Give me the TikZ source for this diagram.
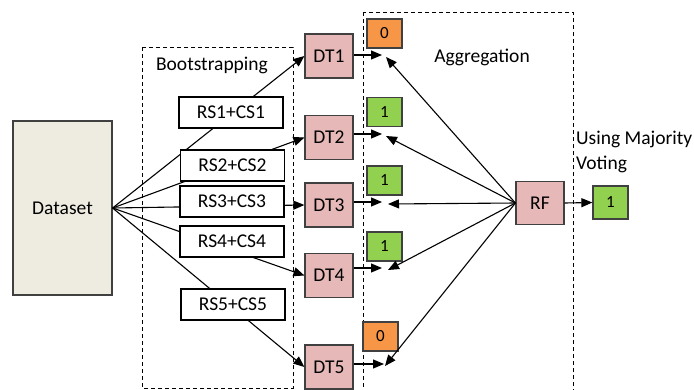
\documentclass[tikz,border=0pt]{standalone}
\usepackage{fontspec}
\setmainfont{Carlito}
\usetikzlibrary{positioning,calc,arrows.meta}
\definecolor{dsfill}{HTML}{EEECE1}
\definecolor{dtfill}{HTML}{E6B9B8}
\definecolor{zerofill}{HTML}{F79646}
\definecolor{onefill}{HTML}{92D050}
\definecolor{edgegray}{HTML}{404040}
\tikzset{box/.style={draw=edgegray,line width=1.2pt,inner sep=0pt},
  dtbox/.style={box,fill=dtfill,minimum width=48pt,minimum height=44pt},
  rsbox/.style={draw,line width=1.1pt,fill=white,minimum width=104pt,minimum height=31pt,inner sep=0pt},
  votebox/.style={box,minimum width=35pt,minimum height=29pt,font=\fontsize{17}{20}\selectfont},
  stage/.style={draw,line width=0.9pt,dash pattern=on 4pt off 3pt},
  link/.style={-{Triangle[length=11pt,width=9pt]},line width=1.1pt}}

\begin{document}
\begin{tikzpicture}[x=1pt,y=-1pt,font=\fontsize{19.5}{23}\selectfont]
  \useasboundingbox (0,0) rectangle (694,389);

  % stages
  \draw[stage] (142,47) rectangle (293,388);
  \draw[stage] (363,12) rectangle (573,395);
  \node (boot) at (212,65) {Bootstrapping};
  \node (aggr) at (482,57) {Aggregation};

  % dataset + trees
  \node (data) [box,fill=dsfill,minimum width=99pt,minimum height=174pt] at (62.5,208) {Dataset};
  \foreach \i/\y in {1/56,2/137.5,3/205,4/275.5,5/367}
  {\node (dt\i) [dtbox] at (329,\y) {DT\i};
    \draw[link] (data.east) -- (dt\i.west);}

  % samples (on top of the lines)
  \foreach \i/\x/\y in {1/231/112.5, 2/232.5/165.5, 3/232/201.5, 4/232/241.5, 5/233/304.5}
  {\node (rs\i) [rsbox] at (\x,\y) {RS\i+CS\i};}

  % votes
  \foreach \i/\x/\y/\c/\v in {1/384.5/33.5/zerofill/0, 2/384.5/112/onefill/1, 3/384.5/180.5/onefill/1, 4/384.5/246.5/onefill/1, 5/380.5/336.5/zerofill/0}
  {\node (vote\i) [votebox,fill=\c] at (\x,\y) {\v};}

  \node (rf) [dtbox,minimum height=43pt] at (540,203) {RF};
  \node (final) [votebox,fill=onefill,minimum height=33pt] at (610.5,202.5) {1};
  \node (maj) [anchor=west,align=left,inner sep=0pt,font=\fontsize{19.5}{25}\selectfont] at (576,152) {Using Majority\\Voting};

  % arrows
  \foreach \i/\y/\a/\b in {1/55/382/386, 2/134/382/386, 3/202/382/388, 4/268/382/388, 5/364/384/385}
  {\coordinate (in\i) at (\a,\y);
    \coordinate (back\i) at (\b,\y+2);
    \draw[link] (dt\i.east |- in\i) -- (in\i);
    \draw[link] (rf.west) -- (back\i);}
  \draw[link] (rf.east) -- (final.west);
\end{tikzpicture}
\end{document}
